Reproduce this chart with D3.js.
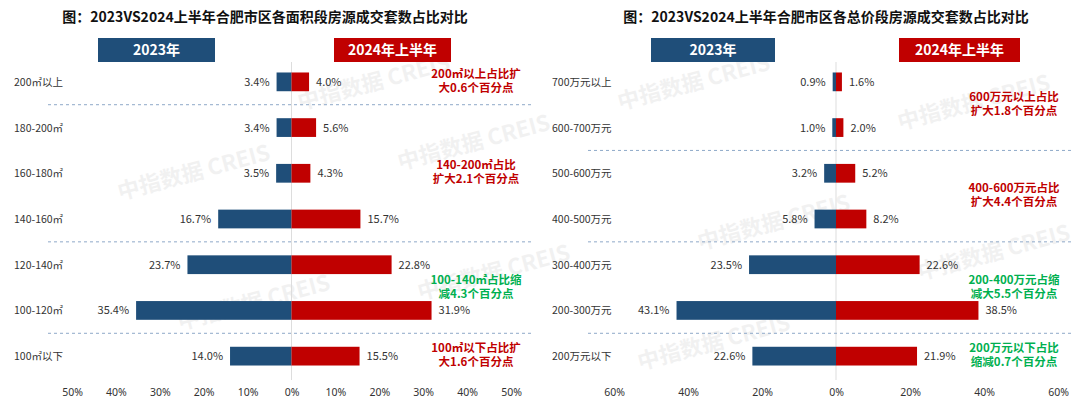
<!DOCTYPE html>
<html><head><meta charset="utf-8">
<script src="https://cdn.jsdelivr.net/npm/d3@7"></script>
<style>
body{margin:0;background:#fff;font-family:"Noto Sans CJK SC","Noto Sans",sans-serif;}
</style></head><body>
<svg id="chart" width="1080" height="412"></svg>
<script>
// data
const areaCats = ["200㎡以上", "180-200㎡", "160-180㎡", "140-160㎡", "120-140㎡", "100-120㎡", "100㎡以下"];
const area2023 = [3.4, 3.4, 3.5, 16.7, 23.7, 35.4, 14.0];
const area2024 = [4.0, 5.6, 4.3, 15.7, 22.8, 31.9, 15.5];
const areaTicks = [-50, -40, -30, -20, -10, 0, 10, 20, 30, 40, 50];
const areaSeps = [0, 3, 5];
const areaNotes = [
    { row: 0, lines: ["200㎡以上占比扩", "大0.6个百分点"], color: "#C00000" },
    { row: 2, lines: ["140-200㎡占比", "扩大2.1个百分点"], color: "#C00000" },
    { row: 4.5, lines: ["100-140㎡占比缩", "减4.3个百分点"], color: "#00B050" },
    { row: 6, lines: ["100㎡以下占比扩", "大1.6个百分点"], color: "#C00000" },
];

const priceCats = ["700万元以上", "600-700万元", "500-600万元", "400-500万元", "300-400万元", "200-300万元", "200万元以下"];
const price2023 = [0.9, 1.0, 3.2, 5.8, 23.5, 43.1, 22.6];
const price2024 = [1.6, 2.0, 5.2, 8.2, 22.6, 38.5, 21.9];
const priceTicks = [-60, -40, -20, 0, 20, 40, 60];
const priceSeps = [1, 3, 5];
const priceNotes = [
    { row: 0.5, lines: ["600万元以上占比", "扩大1.8个百分点"], color: "#C00000" },
    { row: 2.5, lines: ["400-600万元占比", "扩大4.4个百分点"], color: "#C00000" },
    { row: 4.5, lines: ["200-400万元占缩", "减大5.5个百分点"], color: "#00B050" },
    { row: 6, lines: ["200万元以下占比", "缩减0.7个百分点"], color: "#00B050" },
];

const BLUE = "#1F4E79", RED = "#C00000";
const svg = d3.select("#chart");

// faint watermarks
const marks = [[300, 110], [120, 200], [400, 170], [180, 330], [420, 300], [620, 110], [900, 130], [700, 250], [920, 280], [640, 370]];
svg.append("g").selectAll("text").data(marks).enter().append("text")
    .attr("transform", (d) => `translate(${d[0]},${d[1]}) rotate(-15)`)
    .attr("font-size", 22).attr("font-weight", "bold").attr("fill", "#000").attr("opacity", 0.05)
    .text("中指数据  CREIS");

function panel(cfg) {
    const g = svg.append("g");
    const x = d3.scaleLinear().domain(cfg.domain).range(cfg.xRange);
    const y = d3.scaleBand().domain(d3.range(cfg.cats.length)).range([59, 379]).paddingInner(0.59).paddingOuter(0.295);
    const cy = (i) => y(0) + y.bandwidth() / 2 + i * y.step();

    g.append("text").attr("x", cfg.titleX).attr("y", 22).attr("text-anchor", "middle")
        .attr("font-size", 14).attr("font-weight", "bold").attr("fill", "#111").text(cfg.title);

    // headers
    [[cfg.hdrL, BLUE, "2023年"], [cfg.hdrR, RED, "2024年上半年"]].forEach(([hx, c, t]) => {
        g.append("rect").attr("x", hx[0]).attr("y", 38).attr("width", hx[1] - hx[0]).attr("height", 24).attr("fill", c);
        g.append("text").attr("x", (hx[0] + hx[1]) / 2).attr("y", 55).attr("text-anchor", "middle")
            .attr("font-size", 14).attr("font-weight", "bold").attr("fill", "#fff").text(t);
    });

    // center line
    g.append("line").attr("x1", x(0)).attr("x2", x(0)).attr("y1", 62).attr("y2", 380).attr("stroke", "#ddd");

    // separators
    g.selectAll("line.sep").data(cfg.seps).enter().append("line")
        .attr("x1", cfg.sepX[0]).attr("x2", cfg.sepX[1])
        .attr("y1", (d) => cy(d + 0.5)).attr("y2", (d) => cy(d + 0.5))
        .attr("stroke", "#8EA9C8").attr("stroke-dasharray", "3,3");

    g.selectAll("text.cat").data(cfg.cats).enter().append("text")
        .attr("x", cfg.catX).attr("y", (_, i) => cy(i) + 4)
        .attr("font-size", 10.5).attr("fill", "#333").text((d) => d);

    g.selectAll("rect.l").data(cfg.a).enter().append("rect")
        .attr("x", (d) => x(-d)).attr("y", (_, i) => y(i))
        .attr("width", (d) => x(0) - x(-d)).attr("height", y.bandwidth()).attr("fill", BLUE);
    g.selectAll("rect.r").data(cfg.b).enter().append("rect")
        .attr("x", x(0)).attr("y", (_, i) => y(i))
        .attr("width", (d) => x(d) - x(0)).attr("height", y.bandwidth()).attr("fill", RED);

    g.selectAll("text.vl").data(cfg.a).enter().append("text")
        .attr("x", (d) => x(-d) - 7).attr("y", (_, i) => cy(i) + 4).attr("text-anchor", "end")
        .attr("font-size", 11).attr("fill", "#333").text((d) => d.toFixed(1) + "%");
    g.selectAll("text.vr").data(cfg.b).enter().append("text")
        .attr("x", (d) => x(d) + 7).attr("y", (_, i) => cy(i) + 4)
        .attr("font-size", 11).attr("fill", "#333").text((d) => d.toFixed(1) + "%");

    // notes
    cfg.notes.forEach((n) => {
        n.lines.forEach((l, k) => {
            g.append("text").attr("x", cfg.noteX).attr("y", cy(n.row) + 3 + (k - 0.5) * 14)
                .attr("text-anchor", "middle").attr("font-size", 11.5).attr("font-weight", "bold")
                .attr("fill", n.color).text(l);
        });
    });

    // axis
    const ax = g.append("g").attr("transform", "translate(0,386)")
        .call(d3.axisBottom(x).tickValues(cfg.ticks).tickSize(0).tickFormat((d) => Math.abs(d) + "%"));
    ax.select(".domain").remove();
    ax.selectAll("text").attr("font-size", 10.5).attr("fill", "#333").attr("font-family", "Noto Sans, sans-serif");
}

panel({
    title: "图：2023VS2024上半年合肥市区各面积段房源成交套数占比对比", titleX: 265,
    cats: areaCats, a: area2023, b: area2024, domain: [-50, 50], xRange: [72, 511], ticks: areaTicks,
    hdrL: [98, 215], hdrR: [334, 451], seps: areaSeps, sepX: [48, 532], catX: 14, noteX: 476, notes: areaNotes,
});
panel({
    title: "图：2023VS2024上半年合肥市区各总价段房源成交套数占比对比", titleX: 826,
    cats: priceCats, a: price2023, b: price2024, domain: [-60, 60], xRange: [614, 1058], ticks: priceTicks,
    hdrL: [651, 775], hdrR: [899, 1020], seps: priceSeps, sepX: [588, 1072], catX: 552, noteX: 1014, notes: priceNotes,
});
</script>
</body></html>
